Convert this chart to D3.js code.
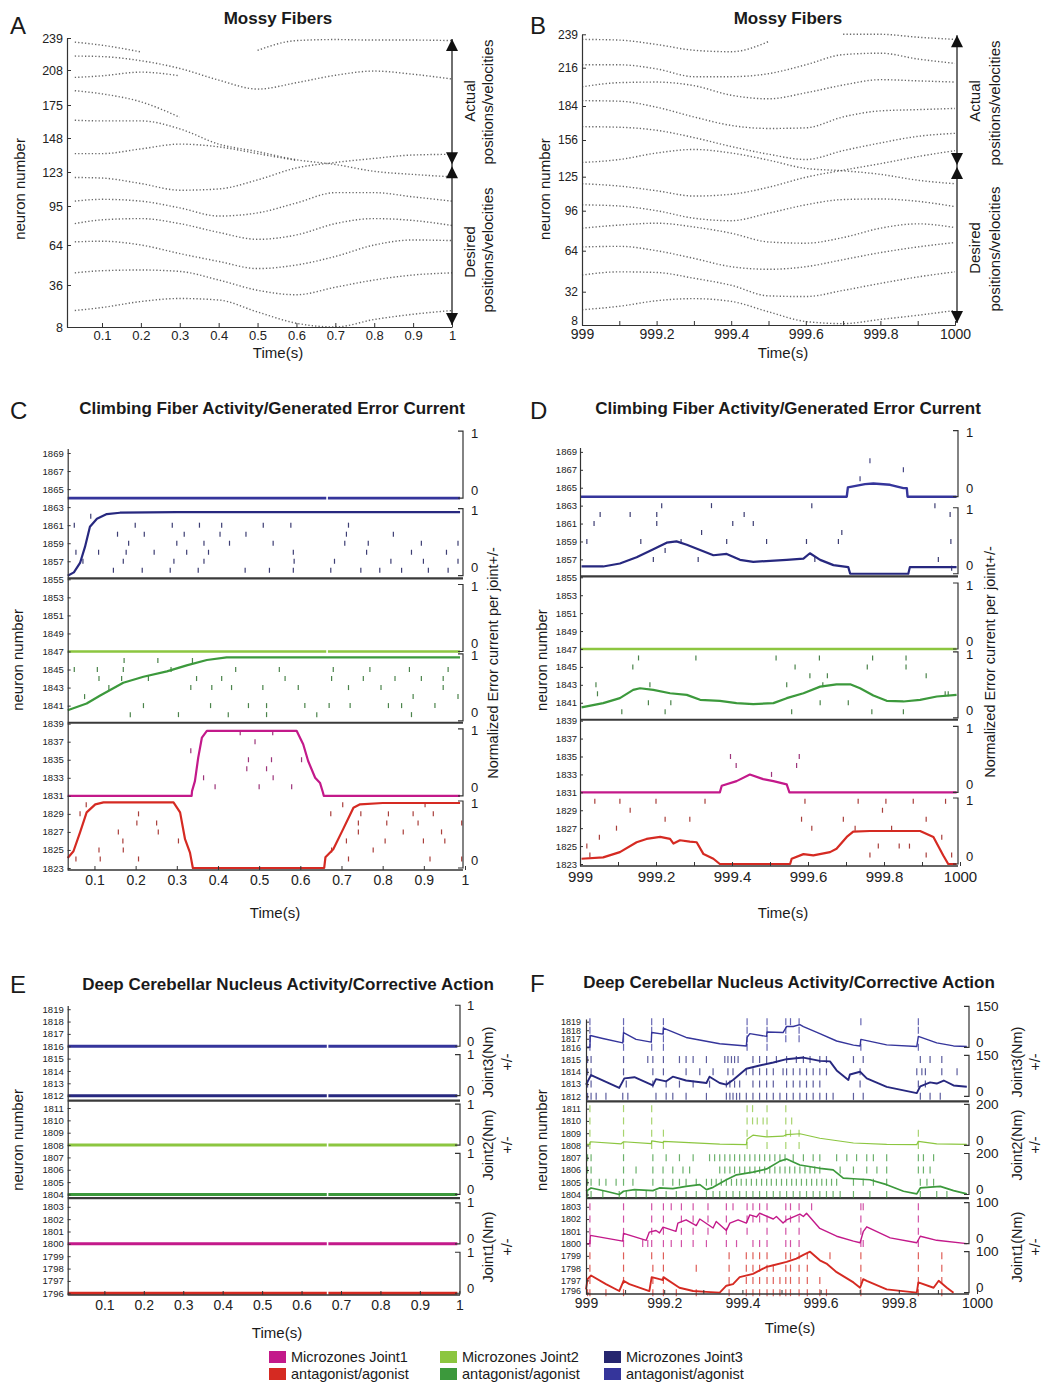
<!DOCTYPE html>
<html>
<head>
<meta charset="utf-8">
<script src="https://cdn.jsdelivr.net/npm/d3@7"></script>
<style>
body{margin:0;background:#fff;}
</style>
</head>
<body>
<svg id="fig" width="1054" height="1385"></svg>
<script>
//---------------- mossy fibres (A, B) ----------------
var mfTimesA=[0.03,0.1,0.2,0.3,0.4,0.5,0.6,0.7,0.8,0.9,1.0];
var mfTicksA=[8,36,64,95,123,148,175,208,239];
var mfCurvesA=[
  [235,232,225.5,null,null,227,236.5,237.5,237,237,236.5],
  [221.5,221,217,209.5,198.5,190,196,203,207,204,199.5],
  [201,202.5,206,202.5,null,null,null,null,null,null,null],
  [188.5,185.5,178,165,null,null,null,null,null,null,null],
  [162.5,162,162,155.5,143.5,138,132,128.5,123.5,121,119],
  [136.5,136.5,140,143.5,141.5,136.5,131.5,null,null,null,null],
  [118.5,118,113.5,108,109,116.5,126,130,133,135.5,136],
  [99,100.5,99,93.5,87,89.5,97.5,106,106,102.5,99],
  [81,84,85,81,74,68.5,72,81,85,83.5,79.5],
  [66.5,67,64,58,52.5,47.5,50,56,64,68,67.5],
  [44.5,46,46.5,45.5,39.5,32.5,29.5,34.5,39.5,43,44.5],
  [19,21,25,27,26,18,10.5,8,13,16.5,19]
];
var mfTimesB=[999,999.1,999.2,999.3,999.4,999.5,999.6,999.7,999.8,999.9,1000];
var mfTicksB=[8,32,64,96,125,156,184,216,239];
var mfCurvesB=[
  [235.5,235,232,228,227,234,null,239,239,237,235.5],
  [218,218,215,208.5,208.5,211,218,225,226,222,219],
  [200,203.5,204,201,193,190,195,201.5,206,205,204],
  [188.5,188,183,175,168,165.5,166,175,180,181,182],
  [167,166.5,164,158,150.5,144,139.5,147,153.5,159,161.5],
  [137,139.5,145,148,145,139,132,130,127,122,119],
  [119,117,113,108.5,110,116,124.5,130.5,136,142,147],
  [101,100,96,90,88,94,101,105.5,106,104,99.5],
  [82,84.5,86,83,78,71,70,74.5,82,85.5,82.5],
  [67,67.5,64,58,51.5,49.5,51.5,57,62.5,67,70.5],
  [45,47.5,47,42.5,37,29,28.5,33,38.5,43.5,47.5],
  [19,21.5,25.5,27,25,17.5,10.5,9,12,15,18.5]
];
var timeTicks01=[0.1,0.2,0.3,0.4,0.5,0.6,0.7,0.8,0.9,1];
var timeTicks999=[999,999.2,999.4,999.6,999.8,1000];
var timeMinor999=[999.1,999.3,999.5,999.7,999.9];

//---------------- climbing fibres (C, D) ----------------
var cfTicks=[1823,1825,1827,1829,1831,1833,1835,1837,1839,1841,1843,1845,1847,1849,1851,1853,1855,1857,1859,1861,1863,1865,1867,1869];
// normalized error current [time, value]
var cfC_red=[[0.035,0.15],[0.049,0.25],[0.065,0.53],[0.081,0.83],[0.102,0.95],[0.122,0.98],[0.292,0.98],[0.308,0.83],[0.32,0.43],[0.332,0.23],[0.339,0],[0.658,0],[0.661,0.16],[0.68,0.28],[0.704,0.58],[0.729,0.9],[0.745,0.95],[0.8,0.97],[0.988,0.97]];
var cfC_mag=[[0.035,0],[0.336,0],[0.337,0.07],[0.344,0.22],[0.352,0.57],[0.361,0.87],[0.373,0.97],[0.591,0.97],[0.607,0.77],[0.619,0.52],[0.636,0.27],[0.648,0.19],[0.655,0.05],[0.657,0],[0.988,0]];
var cfC_dkgreen=[[0.035,0.16],[0.081,0.26],[0.114,0.38],[0.17,0.57],[0.219,0.66],[0.276,0.74],[0.324,0.83],[0.373,0.91],[0.421,0.95],[0.6,0.95],[0.988,0.95]];
var cfC_ltgreen=[[0.035,0],[0.663,0],[0.665,null],[0.667,0],[0.988,0]];
var cfC_dkblue=[[0.035,0],[0.05,0.05],[0.065,0.19],[0.077,0.43],[0.089,0.73],[0.106,0.85],[0.13,0.92],[0.162,0.94],[0.3,0.95],[0.988,0.95]];
var cfC_blue=[[0.035,0],[0.663,0],[0.665,null],[0.667,0],[0.988,0]];
// spikes [neuron, [times]]
var spC_red=[[1830,[0.08,0.703,0.903]],[1829,[0.065,0.207,0.674,0.747,0.814,0.874,0.923]],[1828,[0.203,0.251,0.741,0.81,0.886,0.992]],[1827,[0.158,0.255,0.741,0.85,0.943]],[1826,[0.169,0.304,0.712,0.806,0.899,0.951]],[1825,[0.111,0.17,0.676,0.777]],[1824,[0.055,0.114,0.207,0.717,0.915,0.992]]];
var spC_mag=[[1838,[0.454,0.533]],[1837,[0.49]],[1836,[0.334]],[1835,[0.474,0.53,0.603]],[1834,[0.47,0.518]],[1833,[0.365,0.534]],[1832,[0.393,0.5,0.579]]];
var spC_dkgreen=[[1846,[0.172,0.254,0.338]],[1845,[0.051,0.107,0.17,0.286,0.443,0.549,0.68,0.769,0.865,0.959]],[1844,[0.111,0.166,0.231,0.348,0.409,0.563,0.676,0.753,0.83,0.894,0.947]],[1843,[0.135,0.334,0.385,0.433,0.509,0.595,0.717,0.796,0.947]],[1842,[0.076,0.874,0.983]],[1841,[0.219,0.382,0.474,0.518,0.611,0.67,0.721,0.814,0.846,0.927]],[1840,[0.187,0.304,0.425,0.518,0.64,0.87]]];
var spC_dkblue=[[1862,[0.091]],[1861,[0.051,0.199,0.289,0.355,0.409,0.51,0.577,0.717]],[1860,[0.156,0.221,0.318,0.405,0.468,0.712,0.826]],[1859,[0.183,0.3,0.366,0.428,0.534,0.708,0.765,0.894,0.983]],[1858,[0.055,0.11,0.177,0.245,0.324,0.377,0.583,0.761,0.87,0.955]],[1857,[0.072,0.17,0.293,0.366,0.585,0.683,0.82,0.899,0.983]],[1856,[0.146,0.216,0.284,0.352,0.466,0.525,0.583,0.674,0.747,0.793,0.846,0.911,0.959]]];

var cfD_red=[[999.004,0.08],[999.061,0.1],[999.105,0.18],[999.149,0.33],[999.175,0.38],[999.211,0.41],[999.237,0.38],[999.246,0.31],[999.263,0.36],[999.289,0.34],[999.307,0.33],[999.325,0.15],[999.351,0.08],[999.368,0],[999.553,0],[999.557,0.08],[999.588,0.15],[999.614,0.13],[999.658,0.18],[999.675,0.23],[999.702,0.41],[999.719,0.49],[999.763,0.5],[999.895,0.5],[999.93,0.41],[999.956,0.13],[999.969,0],[999.991,0]];
var cfD_mag=[[999,0],[999.368,0],[999.373,0.1],[999.412,0.17],[999.447,0.27],[999.482,0.2],[999.509,0.17],[999.544,0.12],[999.551,0],[999.991,0]];
var cfD_dkgreen=[[999.004,0.16],[999.061,0.225],[999.105,0.3],[999.14,0.425],[999.158,0.45],[999.193,0.425],[999.237,0.375],[999.281,0.35],[999.316,0.275],[999.368,0.26],[999.412,0.225],[999.456,0.21],[999.509,0.225],[999.544,0.3],[999.588,0.375],[999.632,0.475],[999.675,0.51],[999.711,0.51],[999.737,0.45],[999.772,0.34],[999.807,0.26],[999.851,0.25],[999.895,0.275],[999.939,0.325],[999.991,0.35]];
var cfD_ltgreen=[[999,0],[999.991,0]];
var cfD_dkblue=[[999.004,0.11],[999.061,0.11],[999.105,0.155],[999.149,0.25],[999.193,0.37],[999.228,0.47],[999.254,0.49],[999.281,0.44],[999.316,0.36],[999.351,0.28],[999.386,0.3],[999.421,0.21],[999.456,0.18],[999.544,0.21],[999.588,0.23],[999.605,0.31],[999.632,0.21],[999.667,0.13],[999.706,0.1],[999.711,0],[999.864,0],[999.868,0.1],[999.991,0.1]];
var cfD_blue=[[999,0],[999.702,0],[999.705,0.14],[999.75,0.19],[999.772,0.2],[999.816,0.18],[999.851,0.13],[999.86,0.13],[999.862,0],[999.991,0]];
var spD_red=[[1830,[999.039,999.105,999.2,999.329,999.592,999.732,999.805,999.877,999.962]],[1829,[999.132,999.796]],[1828,[999.224,999.289,999.583,999.693,999.911]],[1827,[999.096,999.61,999.724,999.82]],[1826,[999.051,999.952]],[1825,[999.018,999.785,999.84,999.867]],[1824,[999.026,999.763,999.911,999.978]]];
var spD_mag=[[1835,[999.396,999.577]],[1834,[999.411,999.57]],[1833,[999.504]]];
var spD_dkgreen=[[1846,[999.154,999.305,999.516,999.63,999.77,999.858]],[1845,[999.139,999.566,999.756,999.858]],[1844,[999.605,999.651,999.911]],[1843,[999.042,999.184,999.544,999.639]],[1842,[999.046,999.961,999.969]],[1841,[999.18,999.239,999.632,999.706]],[1840,[999.11,999.224,999.557,999.768,999.851]]];
var spD_dkblue=[[1863,[999.215,999.346,999.61,999.934]],[1862,[999.053,999.132,999.202,999.432,999.974]],[1861,[999.037,999.202,999.402,999.456]],[1860,[999.32,999.689]],[1859,[999.018,999.16,999.266,999.386,999.491,999.596,999.68,999.976]],[1858,[999.224]],[1857,[999.193,999.311,999.618,999.943]],[1856,[999.978]]];
var spD_blue=[[1868,[999.763]],[1867,[999.851]],[1866,[999.737]]];

//---------------- deep cerebellar nucleus (E, F) ----------------
var dcnTicks=[1796,1797,1798,1799,1800,1801,1802,1803,1804,1805,1806,1807,1808,1809,1810,1811,1812,1813,1814,1815,1816,1817,1818,1819];
var dcnE_red=[[0.007,0],[0.664,0],[0.666,null],[0.668,0],[0.995,0]];
var dcnE_mag=[[0.007,0],[0.664,0],[0.666,null],[0.668,0],[0.995,0]];
var dcnE_dkgreen=[[0.007,0],[0.664,0],[0.666,null],[0.668,0],[0.995,0]];
var dcnE_ltgreen=[[0.007,0],[0.664,0],[0.666,null],[0.668,0],[0.995,0]];
var dcnE_dkblue=[[0.007,0],[0.664,0],[0.666,null],[0.668,0],[0.995,0]];
var dcnE_blue=[[0.007,0],[0.664,0],[0.666,null],[0.668,0],[0.995,0]];
var torqueMaxF=[100,100,200,200,150,150];
var dcnF_red=[[999.0,8],[999.004,33],[999.013,42],[999.051,21],[999.085,4],[999.096,29],[999.111,21],[999.162,4],[999.168,38],[999.188,33],[999.197,31],[999.198,38],[999.239,12],[999.274,4],[999.308,2],[999.342,0],[999.359,17],[999.376,21],[999.393,38],[999.427,46],[999.462,63],[999.479,67],[999.513,75],[999.538,83],[999.556,92],[999.573,100],[999.598,79],[999.615,71],[999.641,50],[999.684,25],[999.701,12],[999.709,33],[999.718,29],[999.769,8],[999.846,0],[999.85,25],[999.889,12],[999.902,29],[999.923,12],[999.94,0]];
var dcnF_mag=[[999.0,0],[999.01,0],[999.011,20],[999.094,6],[999.096,25],[999.154,8],[999.162,28],[999.179,32],[999.188,26],[999.197,40],[999.23,30],[999.235,50],[999.256,58],[999.282,44],[999.291,60],[999.325,38],[999.333,54],[999.359,32],[999.368,50],[999.389,58],[999.41,50],[999.419,70],[999.436,65],[999.444,74],[999.479,60],[999.487,66],[999.504,50],[999.513,58],[999.547,72],[999.556,66],[999.564,74],[999.598,37],[999.641,18],[999.684,6],[999.701,2],[999.709,29],[999.718,41],[999.778,14],[999.846,2],[999.855,18],[999.897,8],[999.974,0]];
var dcnF_dkgreen=[[999.0,16],[999.013,32],[999.051,16],[999.085,0],[999.096,16],[999.124,24],[999.171,19],[999.188,32],[999.222,29],[999.256,40],[999.291,48],[999.308,24],[999.325,35],[999.359,72],[999.385,96],[999.427,109],[999.462,125],[999.496,163],[999.513,173],[999.547,144],[999.598,128],[999.632,120],[999.658,80],[999.684,77],[999.726,72],[999.769,48],[999.812,16],[999.846,3],[999.855,32],[999.906,40],[999.94,19],[999.974,3]];
var dcnF_ltgreen=[[999.0,5],[999.01,5],[999.011,18],[999.09,8],[999.096,18],[999.167,9],[999.168,22],[999.197,14],[999.198,20],[999.342,6],[999.41,4],[999.412,30],[999.427,50],[999.462,42],[999.504,45],[999.513,53],[999.547,57],[999.598,35],[999.684,12],[999.769,5],[999.846,4],[999.85,20],[999.897,8],[999.974,5]];
var dcnF_dkblue=[[999.0,43],[999.013,78],[999.085,31],[999.098,66],[999.124,70],[999.171,40],[999.179,63],[999.205,55],[999.222,72],[999.256,58],[999.308,49],[999.316,72],[999.342,49],[999.359,43],[999.376,60],[999.41,101],[999.444,113],[999.479,124],[999.513,136],[999.556,142],[999.598,130],[999.624,128],[999.641,95],[999.671,60],[999.675,80],[999.701,90],[999.718,66],[999.769,35],[999.846,12],[999.855,37],[999.88,51],[999.897,47],[999.915,58],[999.94,40],[999.974,35]];
var dcnF_blue=[[999.0,0],[999.01,0],[999.011,43],[999.043,32],[999.094,16],[999.096,54],[999.128,29],[999.167,19],[999.168,54],[999.197,48],[999.198,70],[999.256,36],[999.342,13],[999.41,5],[999.412,36],[999.419,50],[999.462,40],[999.463,56],[999.504,54],[999.513,76],[999.53,76],[999.547,83],[999.556,76],[999.598,50],[999.641,23],[999.684,8],[999.701,5],[999.703,29],[999.769,9],[999.846,3],[999.85,40],[999.897,16],[999.94,5],[999.974,3]];
var spF_blue=[
  [1819,[999.010,999.096,999.168,999.198,999.412,999.463,999.511,999.523,999.545,999.703,999.850]],
  [1818,[999.010,999.096,999.168,999.198,999.412,999.463,999.511,999.545,999.850]],
  [1817,[999.010,999.096,999.198,999.412,999.463,999.511,999.545]],
  [1816,[999.010,999.096,999.168,999.198,999.412,999.463,999.703,999.850]]];
var spF_dkblue=[
  [1815,[999.004,999.013,999.096,999.158,999.171,999.198,999.239,999.256,999.274,999.308,999.355,999.363,999.372,999.380,999.389,999.427,999.444,999.462,999.487,999.513,999.538,999.556,999.573,999.598,999.615,999.684,999.709,999.855,999.880,999.910]],
  [1814,[999.004,999.013,999.096,999.171,999.198,999.256,999.291,999.325,999.363,999.376,999.410,999.427,999.444,999.462,999.479,999.504,999.513,999.530,999.547,999.564,999.581,999.598,999.615,999.701,999.846,999.859,999.868,999.910,999.949]],
  [1813,[999.004,999.013,999.103,999.171,999.205,999.239,999.274,999.316,999.359,999.368,999.380,999.393,999.427,999.444,999.462,999.479,999.513,999.530,999.547,999.564,999.581,999.598,999.701,999.850,999.868]],
  [1812,[999.004,999.013,999.026,999.051,999.094,999.107,999.179,999.205,999.222,999.256,999.308,999.359,999.368,999.376,999.385,999.393,999.410,999.427,999.444,999.462,999.479,999.496,999.513,999.530,999.547,999.564,999.581,999.598,999.615,999.632,999.684,999.709,999.855,999.880,999.906]]];
var spF_ltgreen=[
  [1811,[999.010,999.096,999.168,999.412,999.426,999.463,999.511]],
  [1810,[999.010,999.096,999.168,999.412,999.426,999.438,999.453,999.463,999.511,999.526]],
  [1809,[999.010,999.096,999.168,999.198,999.412,999.463,999.511,999.523,999.545,999.850]],
  [1808,[999.010,999.096,999.168,999.198,999.412,999.463,999.511,999.545,999.850]]];
var spF_dkgreen=[
  [1807,[999.004,999.013,999.096,999.171,999.205,999.239,999.274,999.316,999.329,999.342,999.355,999.368,999.380,999.393,999.406,999.419,999.432,999.444,999.457,999.470,999.483,999.496,999.509,999.530,999.556,999.581,999.598,999.641,999.667,999.692,999.718,999.735,999.769,999.850,999.863,999.889]],
  [1806,[999.004,999.013,999.096,999.128,999.171,999.197,999.222,999.248,999.265,999.342,999.355,999.368,999.380,999.393,999.406,999.419,999.432,999.444,999.457,999.470,999.483,999.496,999.509,999.521,999.534,999.547,999.560,999.573,999.585,999.598,999.650,999.684,999.718,999.744,999.769,999.850,999.863,999.880]],
  [1805,[999.004,999.013,999.034,999.051,999.077,999.096,999.120,999.171,999.197,999.222,999.239,999.256,999.282,999.308,999.321,999.333,999.346,999.359,999.372,999.385,999.397,999.410,999.423,999.436,999.449,999.462,999.474,999.487,999.500,999.513,999.526,999.538,999.551,999.564,999.577,999.590,999.603,999.615,999.628,999.641,999.684,999.709,999.735,999.769,999.855,999.872,999.889]],
  [1804,[999.004,999.013,999.043,999.085,999.103,999.128,999.154,999.179,999.205,999.231,999.256,999.282,999.308,999.325,999.342,999.359,999.376,999.393,999.410,999.427,999.444,999.462,999.479,999.496,999.513,999.530,999.547,999.564,999.581,999.598,999.615,999.632,999.650,999.684,999.726,999.769,999.855,999.897,999.923]]];
var spF_mag=[
  [1803,[999.010,999.096,999.168,999.198,999.218,999.244,999.274,999.312,999.359,999.376,999.412,999.427,999.444,999.463,999.511,999.523,999.545,999.577,999.703,999.709,999.850]],
  [1802,[999.010,999.096,999.168,999.198,999.244,999.274,999.312,999.359,999.412,999.427,999.444,999.463,999.511,999.523,999.545,999.703,999.850]],
  [1801,[999.010,999.096,999.168,999.198,999.244,999.274,999.312,999.359,999.412,999.463,999.511,999.545,999.703,999.850]],
  [1800,[999.010,999.096,999.145,999.158,999.168,999.198,999.218,999.244,999.274,999.308,999.359,999.385,999.427,999.444,999.463,999.511,999.523,999.545,999.703,999.709,999.850]]];
var spF_red=[
  [1799,[999.010,999.096,999.168,999.198,999.366,999.410,999.427,999.444,999.463,999.511,999.523,999.545,999.566,999.624,999.703,999.850,999.910]],
  [1798,[999.010,999.096,999.171,999.198,999.282,999.366,999.410,999.427,999.444,999.463,999.479,999.511,999.523,999.545,999.566,999.703,999.850,999.910]],
  [1797,[999.010,999.096,999.171,999.198,999.366,999.410,999.427,999.444,999.463,999.479,999.496,999.511,999.523,999.545,999.566,999.598,999.703,999.850,999.910]],
  [1796,[999.004,999.010,999.051,999.096,999.171,999.198,999.231,999.282,999.366,999.410,999.427,999.444,999.463,999.479,999.496,999.511,999.523,999.545,999.566,999.598,999.615,999.703,999.850,999.910]]];

var legendNames=["Microzones Joint1","antagonist/agonist","Microzones Joint2","antagonist/agonist","Microzones Joint3","antagonist/agonist"];

//---------------- drawing ----------------
var font="Arial, 'Liberation Sans', Helvetica, sans-serif";
var colRed="#d52a22", colMag="#c3198a", colDkGreen="#3c993c", colLtGreen="#8cc640", colDkBlue="#27287f", colBlue="#35359b";
var svg=d3.select("#fig");
var fmt01=function(d){return d===1?"1":d.toFixed(1);};
var fmt999=function(d){return String(+d.toFixed(1));};

function label(x,y,str,size,o){
  o=o||{};
  var t=svg.append("text").attr("x",x).attr("y",y).text(str)
    .attr("font-family",font).attr("font-size",size).attr("fill","#1a1a1a")
    .attr("text-anchor",o.anchor||"middle").attr("font-weight",o.bold?"bold":"normal");
  if(o.rot) t.attr("transform","rotate(-90,"+x+","+y+")").attr("dy","0.35em");
  return t;
}

function styleAxis(sel,size){
  sel.attr("font-family",font).attr("font-size",size);
  sel.select(".domain").attr("stroke","#333").attr("stroke-width",1.2);
  sel.selectAll(".tick line").attr("stroke","#333");
  sel.selectAll(".tick text").attr("fill","#222");
}

function drawMossy(cfg){
  var g=svg.append("g");
  var x=d3.scaleLinear().domain(cfg.xDom).range(cfg.xRange);
  var y=d3.scaleLinear().domain(cfg.yTicks).range(cfg.yPos);
  var line=d3.line().defined(d=>d[1]!=null).x(d=>x(d[0])).y(d=>y(d[1])).curve(d3.curveMonotoneX);
  cfg.curves.forEach(function(c){
    var pts=cfg.times.map(function(t,i){return [t,c[i]];});
    g.append("path").attr("d",line(pts)).attr("fill","none")
      .attr("stroke","#444").attr("stroke-width",1.4)
      .attr("stroke-dasharray","1.3,2.1").attr("opacity",0.8);
  });
  var xa=g.append("g").attr("transform","translate(0,"+cfg.axisY+")")
    .call(d3.axisBottom(x).tickValues(cfg.xTicks).tickFormat(cfg.xFmt).tickSize(-4).tickSizeOuter(0).tickPadding(4));
  styleAxis(xa,cfg.xFont);
  if(cfg.xMinor){
    var xm=g.append("g").attr("transform","translate(0,"+cfg.axisY+")")
      .call(d3.axisBottom(x).tickValues(cfg.xMinor).tickFormat("").tickSize(-4).tickSizeOuter(0));
    styleAxis(xm,10);
  }
  var ya=g.append("g").attr("transform","translate("+cfg.xRange[0]+",0)")
    .call(d3.axisLeft(y).tickValues(cfg.yTicks).tickFormat(d3.format("d")).tickSize(-4).tickSizeOuter(0).tickPadding(4));
  styleAxis(ya,cfg.yFont);
  if(cfg.lowShift) ya.selectAll(".tick text").filter(d=>d===cfg.yTicks[0]).attr("y",-cfg.lowShift);
  // arrows on the right
  var ax=cfg.arrowX, yTop=y(cfg.yTicks[cfg.yTicks.length-1])+1, yBot=y(cfg.yTicks[0])-2, yMid=y(cfg.mid);
  g.append("line").attr("x1",ax).attr("x2",ax).attr("y1",yTop).attr("y2",yBot).attr("stroke","#222").attr("stroke-width",1.3);
  function tri(tip,dir){
    var h=12*dir;
    g.append("path").attr("d","M"+ax+","+tip+"L"+(ax-6)+","+(tip+h)+"L"+(ax+6)+","+(tip+h)+"Z").attr("fill","#111");
  }
  tri(yTop,1); tri(yMid-1,-1); tri(yMid+1,1); tri(yBot,-1);
}

function drawStack(cfg){
  var g=svg.append("g");
  var x=d3.scaleLinear().domain(cfg.xDom).range(cfg.xRange);
  var y=d3.scaleLinear().domain(cfg.yDom).range(cfg.yRange);
  var rx=cfg.rightX;
  cfg.separators.forEach(function(n){
    g.append("line").attr("x1",cfg.xRange[0]).attr("x2",rx).attr("y1",y(n)).attr("y2",y(n))
      .attr("stroke","#3a3a3a").attr("stroke-width",2.2);
  });
  cfg.bands.forEach(function(b){
    var y0=y(b.zero);
    var yv=d3.scaleLinear().domain([0,b.max]).range([y0,y0-cfg.bandH]);
    var sc=cfg.spikeDark?d3.color(b.color).darker(cfg.spikeDark).formatHex():b.color;
    b.spikes.forEach(function(row){
      var yr=y(row[0]);
      g.selectAll(null).data(row[1]).enter().append("line")
        .attr("x1",d=>x(d)).attr("x2",d=>x(d))
        .attr("y1",yr-cfg.spikeH/2).attr("y2",yr+cfg.spikeH/2)
        .attr("stroke",sc).attr("stroke-width",1.2).attr("opacity",cfg.spikeOp);
    });
    var line=d3.line().defined(d=>d[1]!=null).x(d=>x(d[0])).y(d=>yv(d[1]));
    g.append("path").attr("d",line(b.curve)).attr("fill","none")
      .attr("stroke",b.color).attr("stroke-width",b.width).attr("stroke-linejoin","round");
    g.append("path").attr("d","M"+(rx-5)+","+yv(b.max)+"H"+rx+"V"+y0+"H"+(rx-5))
      .attr("fill","none").attr("stroke","#333").attr("stroke-width",1.2);
    label(rx+cfg.rLabelDx,yv(b.max)+cfg.topDy,String(b.max),cfg.rFont,{anchor:"start"}).attr("dy","0.35em");
    label(rx+cfg.rLabelDx,y0+cfg.zeroDy,"0",cfg.rFont,{anchor:"start"}).attr("dy","0.35em");
  });
  var ya=g.append("g").attr("transform","translate("+cfg.xRange[0]+",0)")
    .call(d3.axisLeft(y).tickValues(cfg.yTicks).tickFormat(d3.format("d")).tickSize(-3).tickSizeOuter(0).tickPadding(cfg.yPad));
  styleAxis(ya,cfg.yFont);
  if(cfg.lowShift) ya.selectAll(".tick text").filter(d=>d===cfg.yTicks[0]).attr("y",-cfg.lowShift);
  g.append("line").attr("x1",cfg.xRange[0]).attr("x2",rx).attr("y1",cfg.axisY).attr("y2",cfg.axisY)
    .attr("stroke","#333").attr("stroke-width",1.4);
  var xa=g.append("g").attr("transform","translate(0,"+cfg.axisY+")")
    .call(d3.axisBottom(x).tickValues(cfg.xTicks).tickFormat(cfg.xFmt).tickSize(-4).tickSizeOuter(0).tickPadding(cfg.xPad));
  styleAxis(xa,cfg.xFont);
  xa.select(".domain").remove();
  if(cfg.xMinor){
    var xm=g.append("g").attr("transform","translate(0,"+cfg.axisY+")")
      .call(d3.axisBottom(x).tickValues(cfg.xMinor).tickFormat("").tickSize(-4).tickSizeOuter(0));
    styleAxis(xm,10);
    xm.select(".domain").remove();
  }
}

//---- A ----
drawMossy({xDom:[0.01,1],xRange:[67,452],yTicks:mfTicksA,yPos:[327,285,245,206,172,138,105,70,38],
  times:mfTimesA,curves:mfCurvesA,axisY:327,xTicks:timeTicks01,xFmt:fmt01,xFont:13,yFont:12.5,arrowX:452,mid:128});
label(10,34,"A",24,{anchor:"start"});
label(278,24,"Mossy Fibers",17,{bold:true});
label(20,189,"neuron number",15,{rot:true});
label(278,358,"Time(s)",15);
label(470,101,"Actual",15,{rot:true});
label(488,102,"positions/velocities",15,{rot:true});
label(470,252,"Desired",15,{rot:true});
label(488,250,"positions/velocities",15,{rot:true});

//---- B ----
drawMossy({xDom:[999,1000],xRange:[582,955],yTicks:mfTicksB,yPos:[325,291.7,250.7,210.7,176.7,140,106,67.7,34.3],
  times:mfTimesB,curves:mfCurvesB,axisY:325,xTicks:timeTicks999,xMinor:timeMinor999,xFmt:fmt999,xFont:14,yFont:12,arrowX:957,mid:134,lowShift:4});
label(530,34,"B",24,{anchor:"start"});
label(788,24,"Mossy Fibers",17,{bold:true});
label(545,189,"neuron number",15,{rot:true});
label(783,358,"Time(s)",15);
label(975,101,"Actual",15,{rot:true});
label(995,103,"positions/velocities",15,{rot:true});
label(975,248,"Desired",15,{rot:true});
label(995,249,"positions/velocities",15,{rot:true});

//---- C ----
drawStack({xDom:[0.035,1],xRange:[67.7,465],yDom:[1822.8,1869.5],yRange:[869.8,448.5],rightX:463,axisY:870,
  separators:[1855.1,1839.1],bandH:67,spikeH:5,spikeOp:0.85,spikeDark:0.9,rFont:13,rLabelDx:8,topDy:2,zeroDy:-8,
  yFont:9.5,yPad:4,yTicks:cfTicks,xTicks:timeTicks01,xFmt:fmt01,xFont:14,xPad:5,
  bands:[
    {zero:1823,max:1,curve:cfC_red,spikes:spC_red,color:colRed,width:2.2},
    {zero:1831,max:1,curve:cfC_mag,spikes:spC_mag,color:colMag,width:2.2},
    {zero:1839.3,max:1,curve:cfC_dkgreen,spikes:spC_dkgreen,color:colDkGreen,width:2.2},
    {zero:1847,max:1,curve:cfC_ltgreen,spikes:[],color:colLtGreen,width:2.6},
    {zero:1855.4,max:1,curve:cfC_dkblue,spikes:spC_dkblue,color:colDkBlue,width:2.2},
    {zero:1864,max:1,curve:cfC_blue,spikes:[],color:colBlue,width:2.6}
  ]});
label(10,419,"C",24,{anchor:"start"});
label(272,414,"Climbing Fiber Activity/Generated Error Current",17,{bold:true});
label(18,660,"neuron number",15,{rot:true});
label(275,918,"Time(s)",15);
label(493,663,"Normalized Error current per joint+/-",14.5,{rot:true});

//---- D ----
drawStack({xDom:[999,1000],xRange:[580,960],yDom:[1822.8,1869.5],yRange:[865.8,447.4],rightX:958,axisY:866,
  separators:[1855.1,1839.1],bandH:66,spikeH:5,spikeOp:0.85,spikeDark:0.9,rFont:13,rLabelDx:8,topDy:2,zeroDy:-8,
  yFont:9.5,yPad:3,yTicks:cfTicks,xTicks:timeTicks999,xMinor:timeMinor999,xFmt:fmt999,xFont:15,xPad:5,
  bands:[
    {zero:1823,max:1,curve:cfD_red,spikes:spD_red,color:colRed,width:2.2},
    {zero:1831,max:1,curve:cfD_mag,spikes:spD_mag,color:colMag,width:2.2},
    {zero:1839.3,max:1,curve:cfD_dkgreen,spikes:spD_dkgreen,color:colDkGreen,width:2.2},
    {zero:1847,max:1,curve:cfD_ltgreen,spikes:[],color:colLtGreen,width:2.6},
    {zero:1855.4,max:1,curve:cfD_dkblue,spikes:spD_dkblue,color:colDkBlue,width:2.2},
    {zero:1864,max:1,curve:cfD_blue,spikes:spD_blue,color:colBlue,width:2.4}
  ]});
label(530,419,"D",24,{anchor:"start"});
label(788,414,"Climbing Fiber Activity/Generated Error Current",17,{bold:true});
label(542,660,"neuron number",15,{rot:true});
label(783,918,"Time(s)",15);
label(990,662,"Normalized Error current per joint+/-",14.5,{rot:true});

//---- E ----
drawStack({xDom:[0.007,1],xRange:[67.7,459.3],yDom:[1795.9,1819.3],yRange:[1294.5,1005.5],rightX:460,axisY:1295,
  separators:[1811.6,1803.7],bandH:41,spikeH:7,spikeOp:0.7,rFont:13,rLabelDx:7,topDy:0,zeroDy:-5,
  yFont:9.5,yPad:4,yTicks:dcnTicks,xTicks:timeTicks01,xFmt:fmt01,xFont:14,xPad:5,
  bands:[
    {zero:1796,max:1,curve:dcnE_red,spikes:[],color:colRed,width:3},
    {zero:1800,max:1,curve:dcnE_mag,spikes:[],color:colMag,width:3},
    {zero:1804,max:1,curve:dcnE_dkgreen,spikes:[],color:colDkGreen,width:3},
    {zero:1808,max:1,curve:dcnE_ltgreen,spikes:[],color:colLtGreen,width:3},
    {zero:1812,max:1,curve:dcnE_dkblue,spikes:[],color:colDkBlue,width:3},
    {zero:1816,max:1,curve:dcnE_blue,spikes:[],color:colBlue,width:3}
  ]});
label(10,993,"E",24,{anchor:"start"});
label(288,990,"Deep Cerebellar Nucleus Activity/Corrective Action",17,{bold:true});
label(18,1140,"neuron number",15,{rot:true});
label(277,1338,"Time(s)",15);
[["Joint3(Nm)",1062],["Joint2(Nm)",1145],["Joint1(Nm)",1247]].forEach(function(p){
  label(488,p[1],p[0],14.5,{rot:true});
  label(507,p[1],"+/-",14.5,{rot:true});
});

//---- F ----
drawStack({xDom:[999,1000],xRange:[586,977],yDom:[1795.9,1816,1819.3],yRange:[1293.9,1047.3,1019.1],rightX:969,axisY:1294,
  separators:[1811.6,1803.7],bandH:41,spikeH:7,spikeOp:0.75,rFont:13.5,rLabelDx:7,topDy:0,zeroDy:-5,
  yFont:9,yPad:5,yTicks:dcnTicks,xTicks:timeTicks999,xMinor:timeMinor999,xFmt:fmt999,xFont:14,xPad:4,lowShift:2,
  bands:[
    {zero:1796,max:torqueMaxF[0],curve:dcnF_red,spikes:spF_red,color:colRed,width:1.9},
    {zero:1800,max:torqueMaxF[1],curve:dcnF_mag,spikes:spF_mag,color:colMag,width:1.4},
    {zero:1804,max:torqueMaxF[2],curve:dcnF_dkgreen,spikes:spF_dkgreen,color:colDkGreen,width:1.7},
    {zero:1808,max:torqueMaxF[3],curve:dcnF_ltgreen,spikes:spF_ltgreen,color:colLtGreen,width:1.2},
    {zero:1812,max:torqueMaxF[4],curve:dcnF_dkblue,spikes:spF_dkblue,color:colDkBlue,width:1.9},
    {zero:1816,max:torqueMaxF[5],curve:dcnF_blue,spikes:spF_blue,color:colBlue,width:1.4}
  ]});
label(530,992,"F",24,{anchor:"start"});
label(789,988,"Deep Cerebellar Nucleus Activity/Corrective Action",17,{bold:true});
label(542,1140,"neuron number",15,{rot:true});
label(790,1333,"Time(s)",15);
[["Joint3(Nm)",1062],["Joint2(Nm)",1145],["Joint1(Nm)",1247]].forEach(function(p){
  label(1017,p[1],p[0],14.5,{rot:true});
  label(1035,p[1],"+/-",14.5,{rot:true});
});

//---- legend ----
var legCols=[colMag,colRed,colLtGreen,colDkGreen,"#26266f",colBlue];
legendNames.forEach(function(n,i){
  var cx=[269,440,604][Math.floor(i/2)], cy=[1351,1368][i%2];
  svg.append("rect").attr("x",cx).attr("y",cy).attr("width",17).attr("height",12).attr("fill",legCols[i]);
  label(cx+22,cy+11,n,14.5,{anchor:"start"});
});
</script>
</body>
</html>
